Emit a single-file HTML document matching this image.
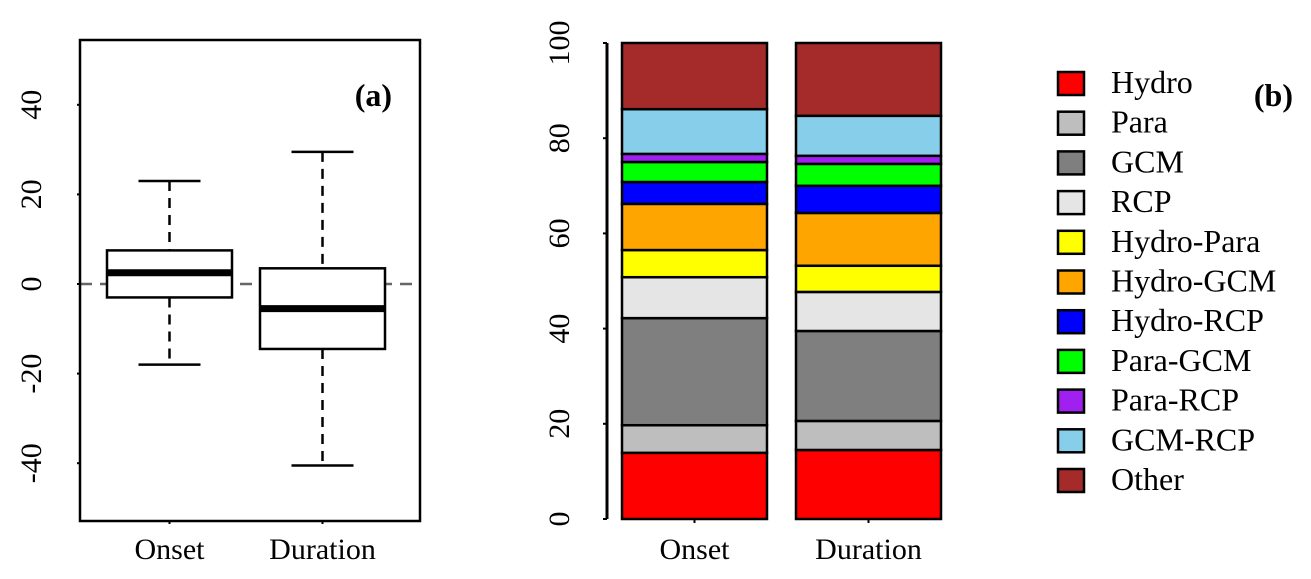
<!DOCTYPE html>
<html><head><meta charset="utf-8"><style>body{margin:0;background:#fff}svg{display:block}text{font-family:"Liberation Serif","Times New Roman","DejaVu Serif",serif;fill:#000}</style></head>
<body>
<svg id="chart" width="1311" height="579" xmlns="http://www.w3.org/2000/svg"></svg>
<script>
const boxCats=["Onset","Duration"];
const boxLow=[-18,-40.5];
const boxQ1=[-3,-14.5];
const boxMed=[2.5,-5.5];
const boxQ3=[7.5,3.5];
const boxHigh=[23,29.5];
const aTicks=[-40,-20,0,20,40];
const stackCats=["Onset","Duration"];
const compNames=["Hydro","Para","GCM","RCP","Hydro-Para","Hydro-GCM","Hydro-RCP","Para-GCM","Para-RCP","GCM-RCP","Other"];
const compColors=["#ff0000","#bebebe","#7f7f7f","#e5e5e5","#ffff00","#ffa500","#0000ff","#00ff00","#a020f0","#87ceeb","#a52a2a"];
const onsetVals=[13.9,5.8,22.5,8.6,5.7,9.7,4.6,4.2,1.7,9.4,13.9];
const durationVals=[14.5,6.1,18.9,8.2,5.5,11.1,5.7,4.6,1.7,8.4,15.3];
const bTicks=[0,20,40,60,80,100];
const svg=document.getElementById('chart');
const NS="http://www.w3.org/2000/svg";
function mk(t,a,p){const e=document.createElementNS(NS,t);for(const k in a)e.setAttribute(k,a[k]);(p||svg).appendChild(e);return e;}
const FF='"Liberation Serif","Times New Roman",serif';
// Panel a
const ya=v=>284-v*4.48;
const xa=i=>169.5+i*153;
const ga=mk('g',{});


mk('line',{x1:80,x2:420,y1:ya(0),y2:ya(0),stroke:'#666','stroke-width':2.5,'stroke-dasharray':'12,8'},ga);
boxCats.forEach((c,i)=>{
 const g=mk('g',{},ga);
 
 
 const x=xa(i),w=62.5;
 mk('line',{x1:x,x2:x,y1:ya(boxHigh[i]),y2:ya(boxQ3[i]),stroke:'#000','stroke-width':2.5,'stroke-dasharray':'10,7'},g);
 mk('line',{x1:x,x2:x,y1:ya(boxQ1[i]),y2:ya(boxLow[i]),stroke:'#000','stroke-width':2.5,'stroke-dasharray':'10,7'},g);
 mk('line',{x1:x-31,x2:x+31,y1:ya(boxHigh[i]),y2:ya(boxHigh[i]),stroke:'#000','stroke-width':2.5},g);
 mk('line',{x1:x-31,x2:x+31,y1:ya(boxLow[i]),y2:ya(boxLow[i]),stroke:'#000','stroke-width':2.5},g);
 mk('rect',{x:x-w,y:ya(boxQ3[i]),width:2*w,height:ya(boxQ1[i])-ya(boxQ3[i]),fill:'#fff',stroke:'#000','stroke-width':2.5},g);
 mk('line',{x1:x-w,x2:x+w,y1:ya(boxMed[i]),y2:ya(boxMed[i]),stroke:'#000','stroke-width':7},g);
 mk('line',{x1:x,x2:x,y1:521,y2:524,stroke:'#000','stroke-width':2},ga);
 const t=mk('text',{x:x,y:559,'font-size':30,'text-anchor':'middle','font-family':FF},ga);t.textContent=c;
 
 
});
mk('rect',{x:80,y:40,width:340,height:481,fill:'none',stroke:'#000','stroke-width':2.5},ga);
aTicks.forEach(v=>{
 mk('line',{x1:77,x2:80,y1:ya(v),y2:ya(v),stroke:'#000','stroke-width':2},ga);
 const t=mk('text',{x:0,y:0,'font-size':30,'text-anchor':'middle','font-family':FF,transform:`translate(41,${ya(v)}) rotate(-90)`},ga);t.textContent=v;
 
 
});
const ta=mk('text',{x:392,y:106,'font-size':32,'font-weight':'bold','text-anchor':'end','font-family':FF},ga);ta.textContent='(a)';


// Panel b
const yb=v=>519-v*4.76;
const xb=i=>622+i*174;
const gb=mk('g',{});


[onsetVals,durationVals].forEach((vals,i)=>{
 let cum=0;
 vals.forEach((v,j)=>{
  const r=mk('rect',{x:xb(i),y:yb(cum+v),width:145,height:v*4.76,fill:compColors[j],stroke:'#000','stroke-width':2.5},gb);
  
  
  cum+=v;
 });
 mk('line',{x1:xb(i)+72.5,x2:xb(i)+72.5,y1:519,y2:523,stroke:'#000','stroke-width':2},gb);
 const t=mk('text',{x:xb(i)+72.5,y:559,'font-size':30,'text-anchor':'middle','font-family':FF},gb);t.textContent=stackCats[i];
 
 
});
mk('line',{x1:607,x2:607,y1:yb(0),y2:yb(100),stroke:'#000','stroke-width':3},gb);
bTicks.forEach(v=>{
 mk('line',{x1:603,x2:607,y1:yb(v),y2:yb(v),stroke:'#000','stroke-width':2},gb);
 const t=mk('text',{x:0,y:0,'font-size':30,'text-anchor':'middle','font-family':FF,transform:`translate(569,${yb(v)}) rotate(-90)`},gb);t.textContent=v;
 
 
});
const gl=mk('g',{});


compNames.forEach((n,j)=>{
 const y=83+j*39.7;
 const r=mk('rect',{x:1058,y:y-11,width:26,height:23,fill:compColors[j],stroke:'#000','stroke-width':2.5},gl);
 
 
 const t=mk('text',{x:1111,y:y+10,'font-size':32,'font-family':FF},gl);t.textContent=n;
 
 
});
const tb=mk('text',{x:1293,y:106,'font-size':32,'font-weight':'bold','text-anchor':'end','font-family':FF});tb.textContent='(b)';


</script>
</body></html>
